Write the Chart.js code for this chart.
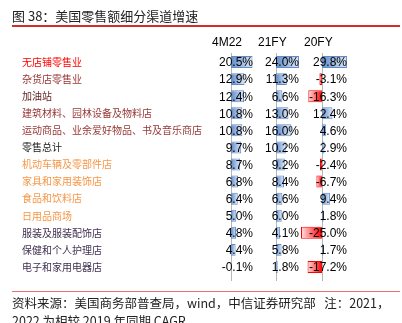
<!DOCTYPE html>
<html>
<head>
<meta charset="utf-8">
<script src="https://cdn.jsdelivr.net/npm/chart.js@4/dist/chart.umd.min.js"></script>
<style>
  html, body { margin: 0; padding: 0; background: #fff; overflow: hidden; }
  #wrap { position: relative; width: 402px; height: 323px; }
  #chart { position: absolute; left: 0; top: 0; }
  .title { position: absolute; left: 12px; top: 8px; font: 13px/16px 'Noto Sans CJK SC', sans-serif; color: #222; white-space: nowrap; }
  .rule { position: absolute; left: 12px; width: 388px; height: 1px; }
  .note { position: absolute; left: 12px; top: 294px; font: 12.5px/18px 'Noto Sans CJK SC', sans-serif; color: #222; white-space: nowrap; }
</style>
</head>
<body>
<div id="wrap">
  <canvas id="chart" width="402" height="323"></canvas>
  <div class="title">图 38：美国零售额细分渠道增速</div>
  <div class="rule" style="top:25px;background:#d42b2b;height:1.5px"></div>
  <div class="rule" style="top:291px;background:#e47272"></div>
  <div class="note">资料来源：美国商务部普查局，wind，中信证券研究部&nbsp;&nbsp;&nbsp;注：2021，<br>2022 为相较 2019 年同期 CAGR</div>
</div>
<script>
const channels = [
  '无店铺零售业', '杂货店零售业', '加油站', '建筑材料、园林设备及物料店',
  '运动商品、业余爱好物品、书及音乐商店', '零售总计', '机动车辆及零部件店',
  '家具和家用装饰店', '食品和饮料店', '日用品商场', '服装及服装配饰店',
  '保健和个人护理店', '电子和家用电器店'
];
const labelColors = [
  '#ff0000', '#953735', '#632523', '#953735', '#953735', '#1a1a1a',
  '#f79646', '#f79646', '#f79646', '#f79646', '#403151', '#403151', '#403151'
];
const periods = ['4M22', '21FY', '20FY'];
const growth4M22 = [20.5, 12.9, 12.4, 10.8, 10.8, 9.7, 8.7, 6.8, 6.4, 5.0, 4.8, 4.4, -0.1];
const growth21FY = [24.0, 11.3, 6.6, 13.0, 16.0, 10.2, 9.2, 8.4, 6.6, 6.0, 4.1, 5.8, 1.8];
const growth20FY = [29.8, -3.1, -16.3, 12.4, 4.6, 2.9, -2.4, -6.7, 9.4, 1.8, -25.0, 1.7, -17.2];

// gradient data bars like excel: solid at the zero line, pale at the end
function barFill(c) {
  const neg = c.raw < 0;
  const base = neg ? '#ff0000' : '#5f8bc8';
  const pale = neg ? '#ffe3e3' : '#e3ebf7';
  const chart = c.chart;
  const ds = chart.data.datasets[c.datasetIndex];
  const scale = ds && chart.scales[ds.xAxisID];
  if (!scale || typeof c.raw !== 'number') return base;
  const x0 = scale.getPixelForValue(0);
  const x1 = scale.getPixelForValue(c.raw);
  if (!isFinite(x0) || !isFinite(x1) || Math.abs(x1 - x0) < 0.5) return base;
  const g = chart.ctx.createLinearGradient(x0, 0, x1, 0);
  g.addColorStop(0, base);
  g.addColorStop(1, pale);
  return g;
}

function colScale(min, max, weight) {
  return {
    type: 'linear',
    position: 'bottom',
    stack: 'cols',
    stackWeight: weight,
    min: min,
    max: max,
    ticks: { display: false },
    grid: { display: false },
    border: { display: false }
  };
}

// dotted zero axis of every data-bar column
const zeroLines = {
  id: 'zeroLines',
  beforeDatasetsDraw(chart) {
    const ctx = chart.ctx;
    const area = chart.chartArea;
    ctx.save();
    ctx.strokeStyle = '#6e6e6e';
    ctx.lineWidth = 1;
    ctx.setLineDash([1, 1]);
    chart.data.datasets.forEach((ds) => {
      const x = Math.round(chart.scales[ds.xAxisID].getPixelForValue(0)) + 0.5;
      ctx.beginPath();
      ctx.moveTo(x, area.top);
      ctx.lineTo(x, area.bottom + 6);
      ctx.stroke();
    });
    ctx.restore();
  }
};

// values printed right aligned in each cell, period names above
const cellText = {
  id: 'cellText',
  afterDatasetsDraw(chart) {
    const ctx = chart.ctx;
    ctx.save();
    ctx.font = '12px "Liberation Sans Narrow", "Arial Narrow", sans-serif';
    ctx.fillStyle = '#000';
    ctx.textBaseline = 'middle';
    chart.data.datasets.forEach((ds, i) => {
      const scale = chart.scales[ds.xAxisID];
      const meta = chart.getDatasetMeta(i);
      ctx.textAlign = 'right';
      meta.data.forEach((bar, j) => {
        ctx.fillText(ds.data[j].toFixed(1) + '%', scale.right - 2, bar.y + 1);
      });
      ctx.textAlign = 'left';
      ctx.fillText(ds.label, scale.left + 3, 43);
    });
    ctx.restore();
  }
};

const series = [growth4M22, growth21FY, growth20FY];
const axisIds = ['a', 'b', 'c'];

new Chart(document.getElementById('chart'), {
  type: 'bar',
  data: {
    labels: channels,
    datasets: series.map((vals, i) => ({
      label: periods[i],
      data: vals,
      xAxisID: axisIds[i],
      yAxisID: 'y',
      grouped: false,
      categoryPercentage: 1,
      barPercentage: 0.7,
      backgroundColor: barFill,
      borderColor: (c) => (c.raw < 0 ? '#ff0000' : '#5f8bc8'),
      borderWidth: 1
    }))
  },
  options: {
    indexAxis: 'y',
    responsive: false,
    animation: false,
    layout: { padding: { left: 22, right: 53, top: 53.5, bottom: 39.5 } },
    plugins: { legend: { display: false }, tooltip: { enabled: false } },
    scales: {
      a: colScale(-20.95, 22.85, 46),
      b: colScale(-21.9, 26.1, 46),
      c: colScale(-25, 32.1, 48),
      y: {
        type: 'category',
        position: 'left',
        grid: { display: false },
        border: { display: false },
        afterFit: (scale) => { scale.width = 187; },
        ticks: {
          crossAlign: 'far',
          padding: 6,
          autoSkip: false,
          font: { family: "'Noto Sans CJK SC', sans-serif", size: 10 },
          color: (c) => labelColors[c.index]
        }
      }
    }
  },
  plugins: [zeroLines, cellText]
});
</script>
</body>
</html>
